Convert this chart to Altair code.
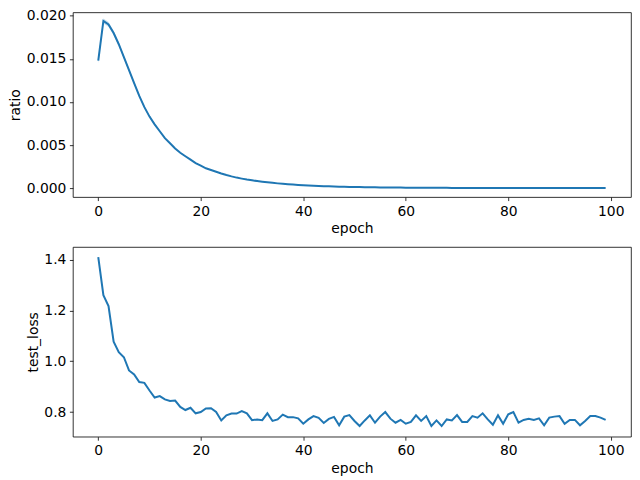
import altair as alt
import pandas as pd

epochs = list(range(100))

ratio = [
    0.0148, 0.0194, 0.0190, 0.0180, 0.0167, 0.0152, 0.0137, 0.0122, 0.0107, 0.0094,
    0.0083, 0.0074, 0.0066, 0.0058, 0.0052, 0.0046, 0.0041, 0.0037, 0.0033, 0.0029,
    0.0026, 0.0023, 0.0021, 0.0019, 0.0017, 0.00152, 0.00136, 0.00122, 0.00110, 0.00099,
    0.00090, 0.00082, 0.00074, 0.00067, 0.00061, 0.00055, 0.00050, 0.00045, 0.00041, 0.00037,
    0.00034, 0.00031, 0.00028, 0.00025, 0.00023, 0.00021, 0.00019, 0.00017, 0.00015, 0.00014,
    0.00013, 0.00012, 0.00011, 0.00010, 0.00009, 0.00008, 0.000075, 0.00007, 0.000065, 0.00006,
    0.000055, 0.00005, 0.000046, 0.000042, 0.000039, 0.000036, 0.000033, 0.00003, 0.000028, 0.000026,
    0.000024, 0.000022, 0.00002, 0.000019, 0.000018, 0.000017, 0.000016, 0.000015, 0.000014, 0.000013,
    0.000012, 0.000011, 0.000011, 0.00001, 0.00001, 0.0000095, 0.000009, 0.0000085, 0.000008, 0.0000078,
    0.0000075, 0.0000072, 0.000007, 0.0000068, 0.0000066, 0.0000064, 0.0000062, 0.000006, 0.0000058, 0.0000056,
]

ratio_ci = [
    0.00030, 0.00030, 0.00028, 0.00025, 0.00022, 0.00020, 0.00018, 0.00016, 0.00014, 0.00012,
    0.00010, 0.00009, 0.00008, 0.00007, 0.00006, 0.00005, 0.000045, 0.00004, 0.000035, 0.00003,
    0.000028, 0.000025, 0.000022, 0.00002, 0.000018, 0.000016, 0.000015, 0.000014, 0.000013, 0.000012,
    0.000011, 0.00001, 0.00001, 0.000009, 0.000009, 0.000008, 0.000008, 0.000007, 0.000007, 0.000006,
    0.000006, 0.000006, 0.000005, 0.000005, 0.000005, 0.000004, 0.000004, 0.000004, 0.000004, 0.000003,
    0.000003, 0.000003, 0.000003, 0.000003, 0.000002, 0.000002, 0.000002, 0.000002, 0.000002, 0.000002,
    0.000002, 0.000002, 0.000001, 0.000001, 0.000001, 0.000001, 0.000001, 0.000001, 0.000001, 0.000001,
    0.000001, 0.000001, 0.000001, 0.000001, 0.000001, 0.000001, 0.000001, 0.000001, 0.000001, 0.000001,
    0.000001, 0.000001, 0.000001, 0.000001, 0.000001, 0.000001, 0.000001, 0.000001, 0.000001, 0.000001,
    0.000001, 0.000001, 0.000001, 0.000001, 0.000001, 0.000001, 0.000001, 0.000001, 0.000001, 0.000001,
]

test_loss = [
    1.41, 1.26, 1.217, 1.077, 1.036, 1.016, 0.964, 0.948, 0.918, 0.915,
    0.885, 0.857, 0.863, 0.85, 0.844, 0.845, 0.82, 0.808, 0.817, 0.795,
    0.80, 0.814, 0.815, 0.80, 0.767, 0.787, 0.794, 0.794, 0.804, 0.795,
    0.768, 0.771, 0.768, 0.795, 0.765, 0.771, 0.79, 0.78, 0.78, 0.775,
    0.754, 0.771, 0.784, 0.777, 0.757, 0.773, 0.781, 0.748, 0.782, 0.788,
    0.765, 0.745, 0.767, 0.787, 0.758, 0.782, 0.80, 0.774, 0.758, 0.769,
    0.754, 0.761, 0.787, 0.765, 0.784, 0.745, 0.767, 0.745, 0.771, 0.767,
    0.788, 0.761, 0.761, 0.784, 0.778, 0.795, 0.771, 0.75, 0.787, 0.754,
    0.791, 0.80, 0.758, 0.769, 0.774, 0.769, 0.775, 0.748, 0.778, 0.782,
    0.784, 0.754, 0.769, 0.769, 0.748, 0.765, 0.784, 0.784, 0.778, 0.769,
]

x_ticks = [0, 20, 40, 60, 80, 100]
ratio_ticks = [0.0, 0.005, 0.010, 0.015, 0.020]
loss_ticks = [0.8, 1.0, 1.2, 1.4]

df1 = pd.DataFrame({
    "epoch": epochs,
    "ratio": ratio,
    "lo": [r - c for r, c in zip(ratio, ratio_ci)],
    "hi": [r + c for r, c in zip(ratio, ratio_ci)],
})
df2 = pd.DataFrame({"epoch": epochs, "test_loss": test_loss})

BLUE = "#1f77b4"
W = 559
LW = 2.0

xscale = alt.Scale(domain=[-4.95, 103.95], nice=False, zero=False)


def xaxis():
    return alt.Axis(values=x_ticks, title="epoch", format="d")


base1 = alt.Chart(df1).encode(
    x=alt.X("epoch:Q", scale=xscale, axis=xaxis())
)
band = base1.mark_area(color=BLUE, opacity=0.25).encode(
    y=alt.Y("lo:Q"), y2="hi:Q"
)
line1 = base1.mark_line(color=BLUE, strokeWidth=LW).encode(
    y=alt.Y("ratio:Q",
            scale=alt.Scale(domain=[-0.00104, 0.0204], nice=False, zero=False),
            axis=alt.Axis(values=ratio_ticks, format=".3f", title="ratio"))
)
top = alt.layer(line1, band).properties(width=W, height=185)

bottom = alt.Chart(df2).mark_line(color=BLUE, strokeWidth=LW).encode(
    x=alt.X("epoch:Q", scale=xscale, axis=xaxis()),
    y=alt.Y("test_loss:Q",
            scale=alt.Scale(domain=[0.703, 1.45], nice=False, zero=False),
            axis=alt.Axis(values=loss_ticks, format=".1f", title="test_loss")),
).properties(width=W, height=190)

chart = alt.vconcat(top, bottom, spacing=10).properties(
    padding={"left": 0, "top": 0, "right": 0, "bottom": 0},
    background="white",
).configure_view(
    stroke="black", strokeWidth=0.8
).configure_axis(
    grid=False, domain=False,
    labelFont="DejaVu Sans", labelFontSize=13.9, labelColor="black",
    titleFont="DejaVu Sans", titleFontSize=13.9, titleColor="black",
    titleFontWeight="normal",
    tickColor="black", tickWidth=0.8, tickSize=3.5,
    labelPadding=3.5, titlePadding=3.5,
)

chart.save("out.html", embed_options={"renderer": "svg", "actions": False})
